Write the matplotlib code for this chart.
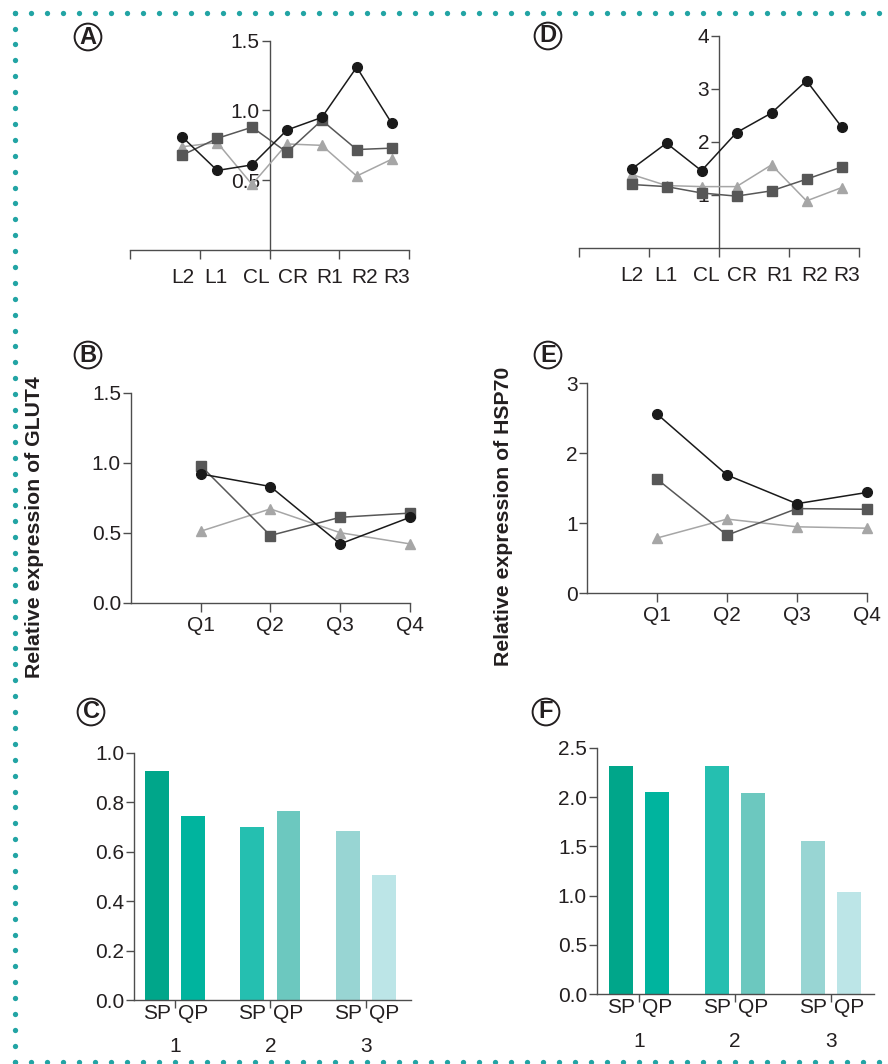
import numpy as np
import matplotlib
matplotlib.use("Agg")
import matplotlib.pyplot as plt

plt.rcParams['font.family'] = ['Liberation Sans', 'DejaVu Sans']

# ---------------- data ----------------
pos_labels = ['L2', 'L1', 'CL', 'CR', 'R1', 'R2', 'R3']
q_labels = ['Q1', 'Q2', 'Q3', 'Q4']
bar_sub = ['SP', 'QP']
bar_groups = ['1', '2', '3']

# Panel A (GLUT4 by position)
a_circle = [0.81, 0.57, 0.61, 0.86, 0.95, 1.31, 0.91]
a_square = [0.68, 0.80, 0.88, 0.70, 0.93, 0.72, 0.73]
a_triangle = [0.74, 0.77, 0.47, 0.76, 0.75, 0.53, 0.65]

# Panel D (HSP70 by position)
d_circle = [1.48, 1.97, 1.45, 2.17, 2.54, 3.15, 2.28]
d_square = [1.19, 1.15, 1.03, 0.97, 1.07, 1.29, 1.52]
d_triangle = [1.38, 1.17, 1.15, 1.15, 1.56, 0.88, 1.13]

# Panel B (GLUT4 by quarter)
b_circle = [0.92, 0.83, 0.42, 0.61]
b_square = [0.98, 0.48, 0.61, 0.64]
b_triangle = [0.51, 0.67, 0.50, 0.42]

# Panel E (HSP70 by quarter)
e_circle = [2.56, 1.69, 1.28, 1.44]
e_square = [1.63, 0.83, 1.21, 1.20]
e_triangle = [0.79, 1.06, 0.95, 0.93]

# Panels C and F (SP, QP per group)
c_values = [[0.925, 0.745], [0.70, 0.765], [0.685, 0.505]]
f_values = [[2.31, 2.055], [2.31, 2.04], [1.55, 1.035]]

bar_colors = [['#00A68A', '#00B49E'], ['#25BFB0', '#6CC8BF'], ['#98D5D3', '#BCE5E7']]

# ---------------- style ----------------
W, H = 888, 1064
fig = plt.figure(figsize=(W / 100, H / 100), dpi=100)

SPINE = '#4d4d4d'
TXT = '#231f20'
FS = 15

series_style = [
    dict(marker='^', color='#a6a6a6', ms=7.5, lw=1.1, zorder=3),
    dict(marker='s', color='#575757', ms=6.5, lw=1.1, zorder=4),
    dict(marker='o', color='#1a1a1a', ms=7, lw=1.1, zorder=5),
]


def ax_px(l, t, r, b):
    return fig.add_axes([l / W, 1 - b / H, (r - l) / W, (b - t) / H])


def base_style(ax):
    for s in ['top', 'right']:
        ax.spines[s].set_visible(False)
    for s in ['left', 'bottom']:
        ax.spines[s].set_color(SPINE)
        ax.spines[s].set_linewidth(1.0)
    ax.tick_params(which='both', colors=SPINE, labelcolor=TXT, labelsize=FS,
                   width=1.0, length=5.5, pad=1.5)
    ax.patch.set_alpha(0)


def position_panel(ax, series, ymax, yticks, yticklabels):
    base_style(ax)
    x = np.arange(len(pos_labels))
    for vals, st in zip(series, series_style):
        ax.plot(x, vals, clip_on=False, **st)
    ax.set_xlim(-1.5, 6.5)
    ax.set_ylim(0, ymax)
    ax.spines['left'].set_position(('data', 2.5))
    ax.set_xticks([-1.5, 0.5, 2.5, 4.5, 6.5])
    ax.set_xticklabels([])
    ax.tick_params(axis='x', which='major', length=6.5)
    label_x = [0.0, 0.97, 2.13, 3.17, 4.23, 5.23, 6.15]
    ax.set_xticks(label_x, minor=True)
    ax.set_xticklabels(pos_labels, minor=True)
    ax.tick_params(axis='x', which='minor', length=0, pad=13)
    ax.set_yticks(yticks)
    ax.set_yticklabels(yticklabels)


def quarter_panel(ax, series, ymax, yticks, yticklabels):
    base_style(ax)
    x = np.arange(1, len(q_labels) + 1)
    for vals, st in zip(series, series_style):
        ax.plot(x, vals, clip_on=False, **st)
    ax.set_xlim(0, 4)
    ax.set_ylim(0, ymax)
    ax.set_xticks(x)
    ax.set_xticklabels(q_labels)
    ax.tick_params(axis='x', length=6.5, pad=3)
    ax.set_yticks(yticks)
    ax.set_yticklabels(yticklabels)


def bar_panel(ax, values, ymax, yticks, yticklabels, xl, xr):
    base_style(ax)
    off, wid = 0.19, 0.25
    sub_x, sub_lab = [], []
    for g, (vals, cols) in enumerate(zip(values, bar_colors)):
        for k, (v, c) in enumerate(zip(vals, cols)):
            xx = g + (-off if k == 0 else off)
            ax.bar(xx, v, width=wid, color=c, edgecolor='none', zorder=2)
            sub_x.append(xx)
            sub_lab.append(bar_sub[k])
    ax.set_xlim(xl, xr)
    ax.set_ylim(0, ymax)
    ax.set_xticks(range(len(bar_groups)))
    ax.set_xticklabels(bar_groups)
    ax.tick_params(axis='x', which='major', length=6, pad=21)
    ax.set_xticks(sub_x, minor=True)
    ax.set_xticklabels(sub_lab, minor=True)
    ax.tick_params(axis='x', which='minor', length=0, pad=3)
    ax.set_yticks(yticks)
    ax.set_yticklabels(yticklabels)


# Panel A
axA = ax_px(130, 40.7, 409, 250)
position_panel(axA, [a_triangle, a_square, a_circle], 1.5,
               [0.5, 1.0, 1.5], ['0.5', '1.0', '1.5'])
# Panel D
axD = ax_px(579, 35.7, 859, 247.5)
position_panel(axD, [d_triangle, d_square, d_circle], 4,
               [1, 2, 3, 4], ['1', '2', '3', '4'])
# Panel B
axB = ax_px(130.7, 392.7, 410, 602.7)
quarter_panel(axB, [b_triangle, b_square, b_circle], 1.5,
              [0, 0.5, 1.0, 1.5], ['0.0', '0.5', '1.0', '1.5'])
# Panel E
axE = ax_px(587.3, 383.3, 866.7, 593.3)
quarter_panel(axE, [e_triangle, e_square, e_circle], 3,
              [0, 1, 2, 3], ['0', '1', '2', '3'])
# Panel C
axC = ax_px(134, 752.7, 410.7, 1000)
bar_panel(axC, c_values, 1.0, [0, 0.2, 0.4, 0.6, 0.8, 1.0],
          ['0.0', '0.2', '0.4', '0.6', '0.8', '1.0'], -0.43, 2.47)
# Panel F
axF = ax_px(596.7, 747.7, 874, 994.3)
bar_panel(axF, f_values, 2.5, [0, 0.5, 1.0, 1.5, 2.0, 2.5],
          ['0.0', '0.5', '1.0', '1.5', '2.0', '2.5'], -0.44, 2.45)

# y labels
fig.text(35 / W, 1 - 527 / H, 'Relative expression of GLUT4', rotation=90,
         ha='center', va='center', fontsize=15.3, fontweight='bold', color=TXT)
fig.text(503 / W, 1 - 516 / H, 'Relative expression of HSP70', rotation=90,
         ha='center', va='center', fontsize=15.3, fontweight='bold', color=TXT)

# panel letters
for letter, (px, py) in {'A': (88, 37), 'D': (548, 36), 'B': (88, 355),
                         'E': (548, 355), 'C': (91, 712), 'F': (546, 712)}.items():
    fig.text(px / W, 1 - py / H, letter, ha='center', va='center', fontsize=17,
             fontweight='bold', color=TXT,
             bbox=dict(boxstyle='circle,pad=0.08', fc='white', ec=TXT, lw=1.4))

# dotted border
bax = fig.add_axes([0, 0, 1, 1])
bax.set_xlim(0, W)
bax.set_ylim(H, 0)
bax.axis('off')
bax.patch.set_alpha(0)
dot = '#22A4A4'
xs = np.arange(15, 884, 16)
bax.plot(xs, np.full_like(xs, 12.7, dtype=float), ls='none', marker='o', ms=3.8,
         color=dot, mec='none')
bax.plot(xs, np.full_like(xs, 1061.7, dtype=float), ls='none', marker='o', ms=3.8,
         color=dot, mec='none')
ys = np.linspace(12.7, 1061.7, 67)
bax.plot(np.full_like(ys, 15), ys, ls='none', marker='o', ms=3.8, color=dot, mec='none')

fig.savefig('out.png', dpi=100)
